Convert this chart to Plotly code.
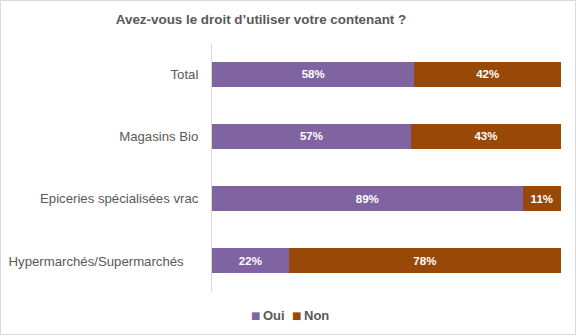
import plotly.graph_objects as go

# Survey results: share of respondents allowed to use their own container
categories = ["Total", "Magasins Bio", "Epiceries spécialisées vrac",
              "Hypermarchés/Supermarchés\u00a0\u00a0\u00a0\u00a0"]
oui = [58, 57, 89, 22]
non = [42, 43, 11, 78]
series_names = ["Oui", "Non"]

PURPLE = "#8064A2"
BROWN = "#984807"
GREY = "#595959"
FONT = "Liberation Sans, Arial"

W, H = 576, 336
L, R, T, B = 212, 15, 43, 44
pw, ph = W - L - R, H - T - B

fig = go.Figure()
for name, vals, col in zip(series_names, [oui, non], [PURPLE, BROWN]):
    fig.add_trace(go.Bar(
        name=name, y=categories, x=vals, orientation="h",
        marker=dict(color=col, line=dict(width=0)),
        text=vals, texttemplate="%{x}%", textposition="inside",
        insidetextanchor="middle", textangle=0,
        textfont=dict(family=FONT, size=11.5, color="white", weight="bold"),
        showlegend=False,
    ))

# outer frame around the whole figure
fig.add_shape(type="rect", xref="paper", yref="paper",
              x0=(0.5 - L) / pw, x1=(W - 0.5 - L) / pw,
              y0=(ph + B - (H - 0.5)) / ph, y1=(ph + T - 0.5) / ph,
              line=dict(color="#D9D9D9", width=1), layer="below")

# compact legend below the plot: coloured square + bold label
legend_y = (ph - (315 - T)) / ph
for name, col, sq_x in zip(series_names, [PURPLE, BROWN], [255, 296]):
    fig.add_annotation(xref="paper", yref="paper", x=(sq_x - L) / pw, y=legend_y,
                       text="■", showarrow=False, xanchor="center", yanchor="middle",
                       font=dict(family="DejaVu Sans", size=10, color=col))
    fig.add_annotation(xref="paper", yref="paper", x=(sq_x + 6 - L) / pw, y=legend_y,
                       text=f"<b>{name}</b>", showarrow=False, xanchor="left", yanchor="middle",
                       font=dict(family=FONT, size=13, color=GREY))

fig.update_layout(
    width=W, height=H, barmode="stack", bargap=0.6,
    margin=dict(l=L, r=R, t=T, b=B, autoexpand=False),
    paper_bgcolor="white", plot_bgcolor="white",
    font=dict(family=FONT, color=GREY),
    title=dict(text="<b>Avez-vous le droit d’utiliser votre contenant ?</b>",
               x=261 / W, xref="container", xanchor="center",
               y=1 - 19 / H, yref="container", yanchor="middle",
               font=dict(size=13.4, color=GREY)),
    xaxis=dict(range=[0, 100], visible=False, fixedrange=True, automargin=False),
    yaxis=dict(autorange="reversed", showline=True, linecolor="#D9D9D9", linewidth=1,
               showgrid=False, ticks="", ticklabelstandoff=10, automargin=False,
               tickfont=dict(size=13.2, color=GREY)),
    showlegend=False,
)

fig.write_html("out.html")
